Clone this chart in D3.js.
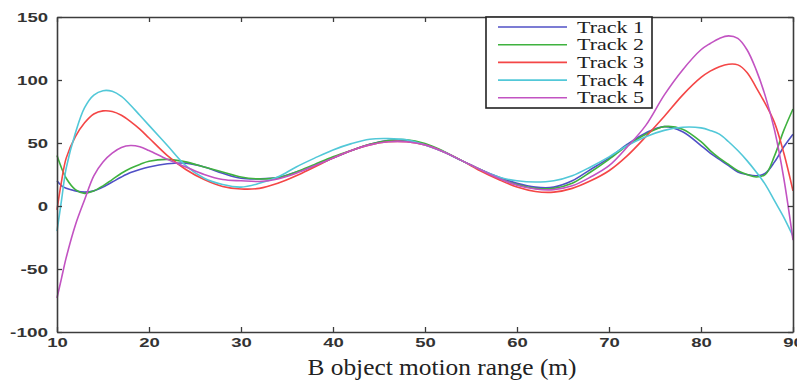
<!DOCTYPE html>
<html>
<head>
<meta charset="utf-8">
<script src="https://cdn.jsdelivr.net/npm/d3@7"></script>
<style>
  html, body { margin: 0; padding: 0; background: #fff; }
  svg { display: block; }
</style>
</head>
<body>
<svg id="chart" width="797" height="383"></svg>
<script>
// ---- data ----
const xs = [10,10.5,11,12,13,14,15,16,17,18,19,20,
  22,24,26,28,30,32,34,36,38,40,42,44,46,48,50,52,54,56,58,60,62,64,66,68,70,72,74,76,78,80,
  81,82,83,84,85,86,87,88,89,90];

const track1 = [20,16,14,12,11,12,15,19,23,26.5,29,31,
  33.5,34,31,26,22,21.5,22.5,27,32,38,44,49,52,52,49,43,36,29,23,18,15,15,20,29,38,49,58,63,59,48,
  42,37,32,27,25,24,26,35,47,57];

const track2 = [40,30,22,13,10,12,16,21,26,30,33,35.5,
  37,35,31,27,23,21.5,22.5,27,33,39,44,49,52,52.5,49.5,43.5,36,29,22,17,14,14,18,27,37,48,57,63,61,51,
  44,38,33,28,25,23,25,40,60,77];

const track3 = [-3,20,38,55,66,73,75.5,75,72,67,61,54,
  40,29,21,15.5,13.5,14,18,24,31,38,44,48.5,51,51,48.5,43,36,28,21,15,11.5,11,14,20,28,40,55,71,88,102,
  107,110.5,112.5,112,106,94,81,66,42,12];

const track4 = [-20,5,30,58,78,88,91.5,91,87,80,72,64,
  48,32,22,17,15,18,23,31,38,44.5,49.5,53,53.5,52.5,48.5,43,36,29,23,20,19,20,24,31,39,48,55,60,62.5,62,
  60,57,51,44,36,27,17,4,-9,-24];

const track5 = [-73,-57,-41,-15,5,24,35,42,46.5,48,47,44,
  37,31,25,21,20,19.5,21.5,26,32,38,44,48.5,51,51,48.5,43,36,29,22,16.5,13.5,13,16,23,32,47,64,88,108,124,
  129,133,135,133,124,108,87,60,22,-27];

const seriesNames = ["Track 1", "Track 2", "Track 3", "Track 4", "Track 5"];
const seriesValues = [track1, track2, track3, track4, track5];
const seriesColors = ["#5050c6", "#3fb23f", "#f44646", "#52c8d8", "#c253c2"];

const xTicks = [10, 20, 30, 40, 50, 60, 70, 80, 90];
const yTicks = [-100, -50, 0, 50, 100, 150];
const xTitle = "B object motion range (m)";

// ---- chart ----
const svg = d3.select("#chart");
const x = d3.scaleLinear().domain([10, 90]).range([57, 793]);
const y = d3.scaleLinear().domain([-100, 150]).range([332, 17]);

const axisColor = "#3c3c3c";
const labelFont = "'Liberation Sans', Arial, sans-serif";
const serifFont = "'Liberation Serif', 'Times New Roman', serif";

function labelLen(s) {
  let w = 0;
  for (const ch of s) w += (ch === "-" ? 7 : 10.3);
  return w;
}

function styleAxis(g) {
  g.select(".domain").attr("stroke", axisColor).attr("stroke-width", 1.6);
  g.selectAll(".tick line").attr("stroke", axisColor).attr("stroke-width", 1.3);
  g.selectAll(".tick text")
    .attr("fill", "#333")
    .style("font-family", labelFont)
    .style("font-weight", "bold")
    .style("font-size", "13px")
    .each(function() {
      const t = d3.select(this).text();
      if (t) d3.select(this).attr("textLength", labelLen(t)).attr("lengthAdjust", "spacingAndGlyphs");
    });
}

// lines
const line = d3.line()
  .x((d, i) => x(xs[i]))
  .y(d => y(d))
  .curve(d3.curveCatmullRom.alpha(0.5));

svg.append("g").selectAll("path")
  .data(seriesValues)
  .join("path")
  .attr("d", d => line(d))
  .attr("fill", "none")
  .attr("stroke", (d, i) => seriesColors[i])
  .attr("stroke-width", 1.6)
  .attr("stroke-linejoin", "round");

// axes (box with inward ticks)
svg.append("g").attr("transform", "translate(0,332)")
  .call(d3.axisBottom(x).tickValues(xTicks).tickSize(-5).tickSizeOuter(0).tickPadding(6).tickFormat(d => String(d)))
  .call(styleAxis);
svg.append("g").attr("transform", "translate(0,17)")
  .call(d3.axisTop(x).tickValues(xTicks).tickSize(-5).tickSizeOuter(0).tickFormat(() => ""))
  .call(styleAxis);
svg.append("g").attr("transform", "translate(57,0)")
  .call(d3.axisLeft(y).tickValues(yTicks).tickSize(-5).tickSizeOuter(0).tickPadding(9).tickFormat(d => String(d)))
  .call(styleAxis);
svg.append("g").attr("transform", "translate(793,0)")
  .call(d3.axisRight(y).tickValues(yTicks).tickSize(-5).tickSizeOuter(0).tickFormat(() => ""))
  .call(styleAxis);

// legend
const lg = svg.append("g");
lg.append("rect")
  .attr("x", 486).attr("y", 17).attr("width", 166).attr("height", 91)
  .attr("fill", "#fff").attr("stroke", "#222").attr("stroke-width", 1.6);
const rows = lg.selectAll("g.row").data(seriesNames).join("g").attr("class", "row")
  .attr("transform", (d, i) => `translate(0,${27 + i * 17.7})`);
rows.append("line")
  .attr("x1", 498).attr("x2", 567).attr("y1", 0).attr("y2", 0)
  .attr("stroke", (d, i) => seriesColors[i]).attr("stroke-width", 1.6);
rows.append("text")
  .attr("x", 577).attr("y", 5.5)
  .text(d => d)
  .attr("fill", "#222")
  .style("font-family", serifFont)
  .style("font-size", "17px")
  .attr("textLength", 67).attr("lengthAdjust", "spacingAndGlyphs");

// x axis title
svg.append("text")
  .attr("x", 442).attr("y", 375)
  .attr("text-anchor", "middle")
  .text(xTitle)
  .attr("fill", "#222")
  .style("font-family", serifFont)
  .style("font-size", "24px")
  .attr("textLength", 269).attr("lengthAdjust", "spacingAndGlyphs");
</script>
</body>
</html>
